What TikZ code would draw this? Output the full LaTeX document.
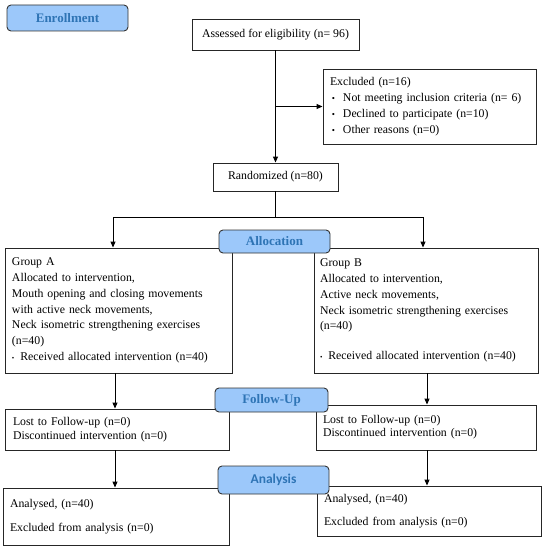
\documentclass[tikz,border=0pt]{standalone}
\usepackage{fontspec}
\setmainfont{Liberation Serif}
\newfontfamily\labelsans{Carlito}
\usetikzlibrary{arrows.meta}

\definecolor{stagefill}{RGB}{156,200,250}
\definecolor{stagetext}{RGB}{46,116,181}

\tikzset{
    box/.style={draw=black!85, line width=0.9pt, fill=white, inner sep=0pt,
        font=\fontsize{11.8}{15.8}\selectfont},
    textbox/.style={box, align=left, text width=#1},
    stage/.style={draw=black!80, line width=0.9pt, fill=stagefill, rounded corners=4pt,
        text=stagetext, font=\fontsize{13}{15}\selectfont\bfseries, inner sep=0pt},
    arr/.style={line width=0.9pt, -{Triangle[length=6pt,width=5pt]}},
    ln/.style={line width=0.9pt}
}

\begin{document}
\begin{tikzpicture}[x=1pt, y=-1pt]
    \useasboundingbox (0,0) rectangle (550,551);

    % Enrollment
    \node[box, minimum width=167pt, minimum height=31pt] (assess) at (275.5,34.5) {Assessed for eligibility (n= 96)};
    \node[textbox=199pt, minimum width=213pt, minimum height=75pt] (excl) at (429.5,106.5)
        {Excluded (n=16)\\
         \,{\small\textbullet}\ \ Not meeting inclusion criteria (n= 6)\\
         \,{\small\textbullet}\ \ Declined to participate (n=10)\\
         \,{\small\textbullet}\ \ Other reasons (n=0)};
    \node[box, minimum width=125pt, minimum height=28pt] (rand) at (275.5,177) {Randomized (n=80)};

    \draw[arr] (assess) -- (rand);
    \draw[arr] (assess.south |- excl.west) -- (excl.west);

    % Allocation
    \node[textbox=213pt, minimum width=227pt, minimum height=125pt] (groupA) at (118.5,310.5)
        {Group A\\
         Allocated to intervention,\\
         Mouth opening and closing movements\\
         with active neck movements,\\
         Neck isometric strengthening exercises\\
         (n=40)\\
         {\scriptsize\textbullet}\,\ Received allocated intervention (n=40)};
    \node[textbox=212pt, minimum width=224pt, minimum height=125pt] (groupB) at (426,310.5)
        {Group B\\
         Allocated to intervention,\\
         Active neck movements,\\
         Neck isometric strengthening exercises\\
         (n=40)\\[14pt]
         {\scriptsize\textbullet}\,\ Received allocated intervention (n=40)};

    \coordinate (splitA) at (113,217);
    \coordinate (splitB) at (423,217);
    \draw[ln] (rand) -- (rand.south |- splitA);
    \draw[ln] (splitA) -- (splitB);
    \draw[arr] (splitA) -- (splitA |- groupA.north);
    \draw[arr] (splitB) -- (splitB |- groupB.north);

    % Follow-up
    \node[textbox=208pt, minimum width=224pt, minimum height=41pt, font=\fontsize{11.8}{14}\selectfont] (lostA) at (117,429.5)
        {Lost to Follow-up (n=0)\\ Discontinued intervention (n=0)};
    \node[textbox=206pt, minimum width=220pt, minimum height=45pt, font=\fontsize{11.8}{13}\selectfont] (lostB) at (426,427.5)
        {Lost to Follow-up (n=0)\\ Discontinued intervention (n=0)};

    % Analysis
    \node[textbox=212pt, minimum width=226pt, minimum height=57pt] (anA) at (116,516.5)
        {Analysed, (n=40)\\[8pt] Excluded from analysis (n=0)};
    \node[textbox=210pt, minimum width=224pt, minimum height=50pt] (anB) at (429,511)
        {Analysed, (n=40)\\[7pt] Excluded from analysis (n=0)};

    \coordinate (colA) at (115,0);
    \coordinate (colB) at (427,0);
    \draw[arr] (colA |- groupA.south) -- (colA |- lostA.north);
    \draw[arr] (colB |- groupB.south) -- (colB |- lostB.north);
    \draw[arr] (colA |- lostA.south) -- (colA |- anA.north);
    \draw[arr] (colB |- lostB.south) -- (colB |- anB.north);

    % stage labels
    \node[stage, minimum width=121pt, minimum height=26pt] (enroll) at (67.5,18) {Enrollment};
    \node[stage, minimum width=111pt, minimum height=23pt] (alloc) at (274.5,241.5) {Allocation};
    \node[stage, minimum width=113pt, minimum height=24pt] (follow) at (271.5,400) {Follow-Up};
    \node[stage, minimum width=111pt, minimum height=28pt, font=\labelsans\fontsize{13.5}{15}\selectfont\bfseries] (analysis) at (273.5,480) {Analysis};
\end{tikzpicture}
\end{document}
